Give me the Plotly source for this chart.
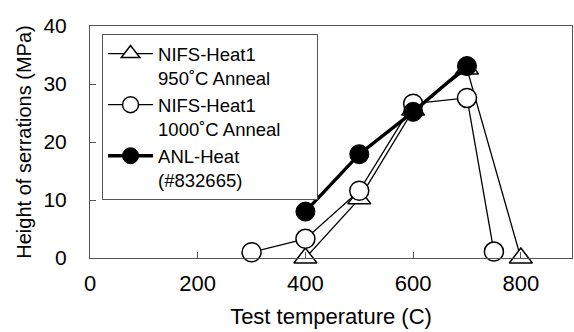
import plotly.graph_objects as go

t_tri = [400, 500, 600, 700, 800]
h_tri = [0, 10.2, 25.5, 32.6, 0]
t_circ = [300, 400, 500, 600, 700, 750]
h_circ = [1.0, 3.3, 11.6, 26.6, 27.6, 1.1]
t_anl = [400, 500, 600, 700]
h_anl = [8.0, 17.9, 25.2, 33.1]

pad = '<span style="color:rgba(0,0,0,0)">___</span>'
names = ["NIFS-Heat1<br>950˚C Anneal",
         "NIFS-Heat1<br>1000˚C Anneal" + pad,
         "ANL-Heat<br>(#832665)"]

fig = go.Figure()
fig.add_trace(go.Scatter(x=t_tri, y=h_tri, name=names[0], mode="lines+markers",
                         line=dict(color="black", width=1.3),
                         marker=dict(symbol="triangle-up", size=20, color="white",
                                     line=dict(color="black", width=1.5))))
fig.add_trace(go.Scatter(x=t_circ, y=h_circ, name=names[1], mode="lines+markers",
                         line=dict(color="black", width=1.3),
                         marker=dict(symbol="circle", size=19, color="white",
                                     line=dict(color="black", width=1.5))))
fig.add_trace(go.Scatter(x=t_anl, y=h_anl, name=names[2], mode="lines+markers",
                         line=dict(color="black", width=3.4),
                         marker=dict(symbol="circle", size=19, color="black",
                                     line=dict(color="black", width=1))))

font = "Liberation Sans, Arial, sans-serif"
fig.update_layout(
    width=574, height=332,
    margin=dict(l=90, r=2, t=26, b=74),
    plot_bgcolor="white", paper_bgcolor="white",
    font=dict(family=font, size=20, color="black"),
    showlegend=True,
    legend=dict(x=0.025, y=0.9655, xanchor="left", yanchor="top",
                bordercolor="#555", borderwidth=1, bgcolor="white",
                font=dict(size=18.5), valign="top", tracegroupgap=0,
                itemwidth=45),
    xaxis=dict(range=[0, 895], tickvals=[0, 200, 400, 600, 800],
               ticks="inside", ticklen=6, tickcolor="#555",
               tickfont=dict(size=22), ticklabelstandoff=6,
               showline=True, linecolor="#555", linewidth=1, mirror=True,
               showgrid=False, zeroline=False,
               title=dict(text="Test temperature (C)", font=dict(size=22), standoff=13)),
    yaxis=dict(range=[0, 40], tickvals=[0, 10, 20, 30, 40],
               ticks="inside", ticklen=6, tickcolor="#555",
               tickfont=dict(size=21), ticklabelstandoff=18,
               showline=True, linecolor="#555", linewidth=1, mirror=True,
               showgrid=False, zeroline=False,
               title=dict(text="Height of serrations (MPa)", font=dict(size=20), standoff=6)),
)
fig.update_traces(cliponaxis=False)
fig.write_html("out.html")
